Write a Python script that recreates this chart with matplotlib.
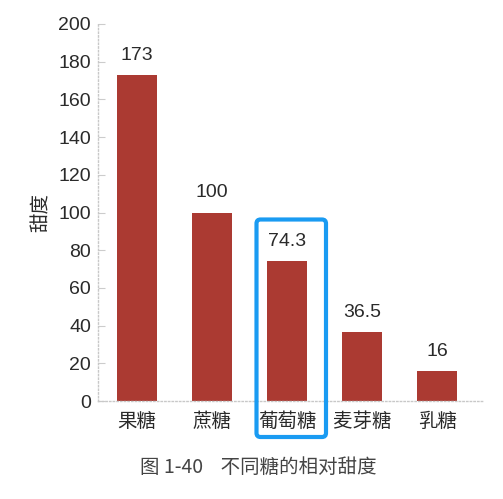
import numpy as np
import matplotlib.pyplot as plt
from matplotlib.patches import FancyBboxPatch

plt.rcParams['font.family'] = ['Liberation Sans', 'Noto Sans CJK SC']

sugars = ['果糖', '蔗糖', '葡萄糖', '麦芽糖', '乳糖']
sweetness = [173, 100, 74.3, 36.5, 16]
value_labels = ['173', '100', '74.3', '36.5', '16']
yticks = [0, 20, 40, 60, 80, 100, 120, 140, 160, 180, 200]

fig = plt.figure(figsize=(5.03, 4.99), dpi=100)
ax = fig.add_axes([98/503, 1-401/499, (483-98)/503, (401-24)/499])

x = np.arange(len(sugars))
ax.bar(x, sweetness, width=0.54, color='#ab3a32')
for xi, v, lab in zip(x, sweetness, value_labels):
    ax.text(xi, v + 6, lab, ha='center', va='bottom', fontsize=14, color='#2a2a2a')

ax.set_xlim(-0.52, 4.61)
ax.set_ylim(0, 200)
ax.set_yticks(yticks)
ax.set_xticks(x)
ax.set_xticklabels(sugars, fontsize=14, color='#2a2a2a',
                   family=['Noto Sans CJK SC', 'DejaVu Sans'])
ax.tick_params(axis='y', direction='in', length=5, color='#cccccc', labelsize=14,
               labelcolor='#2a2a2a', pad=5)
ax.tick_params(axis='x', length=0, pad=7)
for s in ['top', 'right']:
    ax.spines[s].set_visible(False)
for s in ['left', 'bottom']:
    ax.spines[s].set_color('#c8c8c8')
    ax.spines[s].set_linestyle(':')
    ax.spines[s].set_linewidth(1)
ax.set_ylabel('甜度', fontsize=14, color='#2a2a2a', labelpad=5,
              family=['Noto Sans CJK SC', 'DejaVu Sans'])

# blue highlight box around 葡萄糖
box = FancyBboxPatch((256.5/503, 1-437/499), (326-256.5)/503, (437-219.5)/499,
                     boxstyle='round,pad=0,rounding_size=0.008',
                     transform=fig.transFigure, fill=False,
                     edgecolor='#1a9bf2', linewidth=3, clip_on=False)
fig.patches.append(box)

fig.text(258/503, 1-467/499, '图 1-40    不同糖的相对甜度', ha='center', va='center',
         fontsize=14, color='#444444', family=['Noto Sans CJK SC', 'DejaVu Sans'])

fig.savefig('out.png', dpi=100)
